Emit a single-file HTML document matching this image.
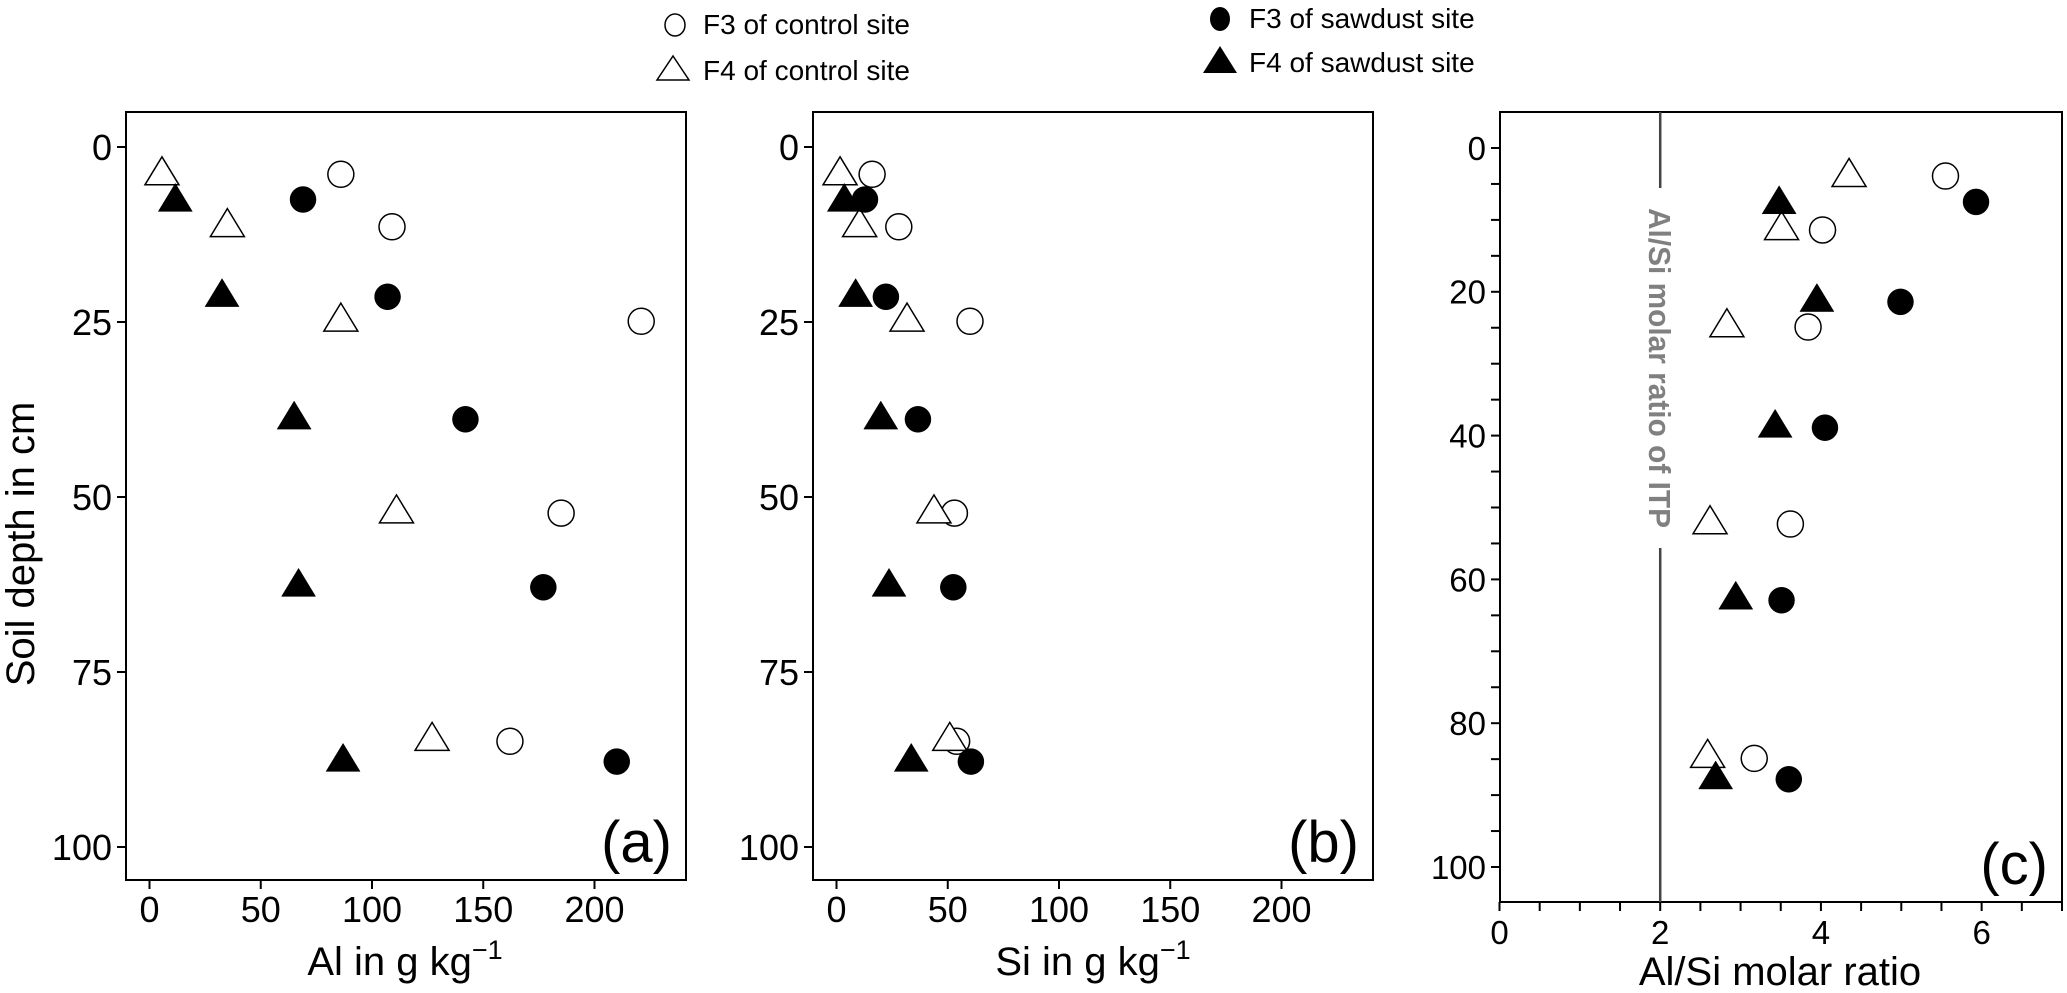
<!DOCTYPE html>
<html><head><meta charset="utf-8"><style>
html,body{margin:0;padding:0;background:#fff;}
svg{display:block;font-family:"Liberation Sans",sans-serif;}
</style></head><body>
<svg id="chart" width="2067" height="993" viewBox="0 0 2067 993" xmlns="http://www.w3.org/2000/svg">
<g id="legend">
 <g><ellipse cx="675" cy="25" rx="10" ry="11" fill="#fff" stroke="#000" stroke-width="1.5"/><text x="703" y="34" font-size="28">F3 of control site</text></g>
 <g><polygon points="673,56 689,80 657,80" fill="#fff" stroke="#000" stroke-width="1.5"/><text x="703" y="80" font-size="28">F4 of control site</text></g>
 <g><ellipse cx="1220" cy="19" rx="10" ry="12" fill="#000"/><text x="1249" y="28" font-size="28">F3 of sawdust site</text></g>
 <g><polygon points="1220,46 1237,73 1203,73" fill="#000"/><text x="1249" y="72" font-size="28">F4 of sawdust site</text></g>
</g>
<g id="plots"></g>
</svg>
<script>
// Depths (cm)
const depthF3c = [3.9, 11.4, 24.9, 52.3, 84.9];
const depthF4c = [3.4, 10.8, 24.3, 51.7, 84.2];
const depthF3s = [7.5, 21.4, 38.9, 62.9, 87.8];
const depthF4s = [7.2, 20.8, 38.3, 62.2, 87.2];
// Panel a: Al g/kg
const alF3c = [86, 109, 221, 185, 162];
const alF4c = [5.6, 35, 86, 111, 127];
const alF3s = [69, 107, 142, 177, 210];
const alF4s = [11.6, 32.6, 65, 67, 87];
// Panel b: Si g/kg
const siF3c = [16, 28, 60, 53, 54];
const siF4c = [1.6, 10.4, 31.7, 43.8, 50.9];
const siF3s = [12.8, 22.2, 36.6, 52.5, 60.4];
const siF4s = [3.5, 8.6, 19.9, 23.6, 33.6];
// Panel c: Al/Si molar ratio
const rF3c = [5.55, 4.02, 3.84, 3.62, 3.17];
const rF4c = [4.35, 3.51, 2.83, 2.62, 2.59];
const rF3s = [5.93, 4.99, 4.05, 3.51, 3.6];
const rF4s = [3.48, 3.95, 3.43, 2.94, 2.69];
const itpRatio = 2;
const abXTicks = [0, 50, 100, 150, 200];
const abYTicks = [0, 25, 50, 75, 100];
const cXTicks = [0, 2, 4, 6];
const cYTicks = [0, 20, 40, 60, 80, 100];

const NS = "http://www.w3.org/2000/svg";
const root = document.getElementById('plots');
function mk(tag, attrs, parent) {
  const e = document.createElementNS(NS, tag);
  for (const k in attrs) e.setAttribute(k, attrs[k]);
  (parent || root).appendChild(e);
  return e;
}
function marker(g, kind, px, py) {
  let e;
  if (kind === 'oc' || kind === 'fc') {
    e = mk('ellipse', {cx: px, cy: py, rx: 13, ry: 13, fill: kind === 'fc' ? '#000' : '#fff', stroke: '#000', 'stroke-width': kind === 'fc' ? 0.5 : 1.5}, g);
  } else {
    e = mk('polygon', {points: `${px},${py-14} ${px+17},${py+14} ${px-17},${py+14}`, fill: kind === 'ft' ? '#000' : '#fff', stroke: '#000', 'stroke-width': kind === 'ft' ? 0.5 : 1.5}, g);
  }
  
  
}

function panelAxis(cfg) {
  const g = mk('g', {});
  
  
  const sx = v => cfg.ax0 + (v - cfg.xmin) / (cfg.xmax - cfg.xmin) * (cfg.ax1 - cfg.ax0);
  const sy = v => cfg.y0 + (v - cfg.ymin) / (cfg.ymax - cfg.ymin) * (cfg.y1 - cfg.y0);
  const frame = mk('rect', {x: cfg.x0, y: cfg.top, width: cfg.right - cfg.x0, height: cfg.bottom - cfg.top, fill: 'none', stroke: '#000', 'stroke-width': 2}, g);
  
  
  cfg.yticks.forEach(v => {
    mk('line', {x1: cfg.x0 - 9, x2: cfg.x0, y1: sy(v), y2: sy(v), stroke: '#000', 'stroke-width': 2}, g);
    const t = mk('text', {x: cfg.x0 - 14, y: sy(v) + cfg.fs * 0.36, 'font-size': cfg.fs, 'text-anchor': 'end'}, g);
    t.textContent = v;
    
    
  });
  (cfg.yminor || []).forEach(v => {
    mk('line', {x1: cfg.x0 - 9, x2: cfg.x0, y1: sy(v), y2: sy(v), stroke: '#000', 'stroke-width': 2}, g);
  });
  cfg.xticks.forEach(v => {
    mk('line', {x1: sx(v), x2: sx(v), y1: cfg.bottom, y2: cfg.bottom + 9, stroke: '#000', 'stroke-width': 2}, g);
    const t = mk('text', {x: sx(v), y: cfg.bottom + 42, 'font-size': cfg.fs, 'text-anchor': 'middle'}, g);
    t.textContent = v;
    
    
  });
  (cfg.xminor || []).forEach(v => {
    mk('line', {x1: sx(v), x2: sx(v), y1: cfg.bottom, y2: cfg.bottom + 9, stroke: '#000', 'stroke-width': 2}, g);
  });
  if (cfg.itp !== undefined) {
    const lx = sx(cfg.itp);
    const l1 = mk('line', {x1: lx, x2: lx, y1: cfg.top, y2: 188, stroke: '#444', 'stroke-width': 2.5}, g);
    
    
    mk('line', {x1: lx, x2: lx, y1: 548, y2: cfg.bottom, stroke: '#444', 'stroke-width': 2.5}, g);
    const t = mk('text', {x: lx, y: 368, 'font-size': 31, 'font-weight': 'bold', fill: '#808080', 'text-anchor': 'middle', textLength: 320, lengthAdjust: 'spacingAndGlyphs', transform: `rotate(90 ${lx} 368) translate(0 11)`}, g);
    t.textContent = 'Al/Si molar ratio of ITP';
    
    
  }
  cfg.series.forEach(s => {
    s.x.forEach((v, i) => marker(g, s.kind, sx(v), sy(s.y[i])));
  });
  const lab = mk('text', {x: cfg.label.x, y: cfg.label.y, 'font-size': 40, 'text-anchor': 'middle'}, g);
  
  
  if (cfg.label.sup) lab.innerHTML = cfg.label.text + '<tspan font-size="27" dy="-16">\u22121</tspan>';
  else lab.textContent = cfg.label.text;
  const pl = mk('text', {x: cfg.right - 14, y: cfg.bottom - 18, 'font-size': 58, 'text-anchor': 'end'}, g);
  pl.textContent = cfg.letter;
  
  
}

panelAxis({name: 'panel-a-aluminium', x0: 126, right: 686, top: 112, bottom: 880,
  xmin: 0, xmax: 200, ax0: 149.5, ax1: 594.5, y0: 147, y1: 847, ymin: 0, ymax: 100, fs: 36,
  xticks: abXTicks, yticks: abYTicks,
  series: [{kind:'oc', x: alF3c, y: depthF3c}, {kind:'ot', x: alF4c, y: depthF4c}, {kind:'fc', x: alF3s, y: depthF3s}, {kind:'ft', x: alF4s, y: depthF4s}],
  label: {x: 405, y: 975, text: 'Al in g kg', sup: true}, letter: '(a)'});
panelAxis({name: 'panel-b-silicon', x0: 813, right: 1373, top: 112, bottom: 880,
  xmin: 0, xmax: 200, ax0: 836.5, ax1: 1281.5, y0: 147, y1: 847, ymin: 0, ymax: 100, fs: 36,
  xticks: abXTicks, yticks: abYTicks,
  series: [{kind:'oc', x: siF3c, y: depthF3c}, {kind:'ot', x: siF4c, y: depthF4c}, {kind:'fc', x: siF3s, y: depthF3s}, {kind:'ft', x: siF4s, y: depthF4s}],
  label: {x: 1093, y: 975, text: 'Si in g kg', sup: true}, letter: '(b)'});
panelAxis({name: 'panel-c-ratio', x0: 1500, right: 2062, top: 112, bottom: 902,
  xmin: 0, xmax: 7, ax0: 1499.5, ax1: 2062, y0: 148, y1: 867, ymin: 0, ymax: 100, fs: 33,
  xticks: cXTicks, yticks: cYTicks, itp: itpRatio,
  xminor: [0.5,1,1.5,2.5,3,3.5,4.5,5,5.5,6.5,7],
  yminor: [5,10,15,25,30,35,45,50,55,65,70,75,85,90,95],
  series: [{kind:'oc', x: rF3c, y: depthF3c}, {kind:'ot', x: rF4c, y: depthF4c}, {kind:'fc', x: rF3s, y: depthF3s}, {kind:'ft', x: rF4s, y: depthF4s}],
  label: {x: 1780, y: 985, text: 'Al/Si molar ratio', sup: false}, letter: '(c)'});

const yl = mk('text', {x: 34, y: 544, 'font-size': 40, 'text-anchor': 'middle', transform: 'rotate(-90 34 544)'});
yl.textContent = 'Soil depth in cm';


</script>
</body></html>
